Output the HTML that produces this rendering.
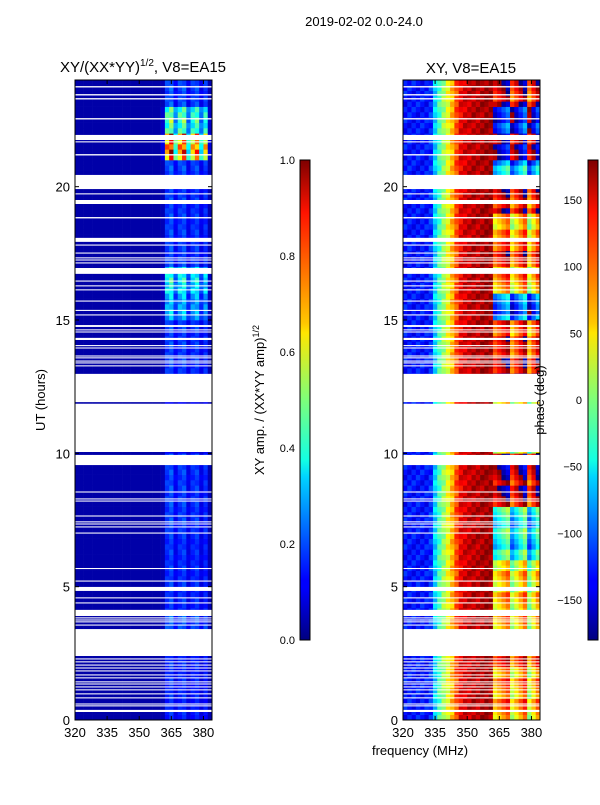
<!DOCTYPE html>
<html><head><meta charset="utf-8"><style>
body{margin:0;background:#fff;}
svg text{font-family:"Liberation Sans",sans-serif;fill:#000;}
</style></head><body>
<svg id="fig" width="600" height="800" xmlns="http://www.w3.org/2000/svg">
<defs>
<linearGradient id="jet" x1="0" y1="1" x2="0" y2="0">
<stop offset="0" stop-color="#00007f"/><stop offset="0.11" stop-color="#0000ff"/><stop offset="0.125" stop-color="#0000ff"/><stop offset="0.34" stop-color="#00d4ff"/><stop offset="0.375" stop-color="#13ffe3"/><stop offset="0.5" stop-color="#7dff7a"/><stop offset="0.64" stop-color="#ffe600"/><stop offset="0.66" stop-color="#ffc800"/><stop offset="0.89" stop-color="#ff1300"/><stop offset="1" stop-color="#7f0000"/>
</linearGradient>
</defs>
<text x="364" y="26" font-size="13" text-anchor="middle">2019-02-02 0.0-24.0</text>
<text x="143" y="72" font-size="15" text-anchor="middle">XY/(XX*YY)<tspan font-size="10" dy="-6">1/2</tspan><tspan dy="6">, V8=EA15</tspan></text>
<text x="471" y="73" font-size="15" text-anchor="middle">XY, V8=EA15</text>
<g id="leftPanel"></g>
<g id="rightPanel"></g>
<rect x="75" y="80" width="137" height="640" fill="none" stroke="#000" stroke-width="1"/>
<rect x="403" y="80" width="137" height="640" fill="none" stroke="#000" stroke-width="1"/>
<g id="axes"></g>
<rect x="300" y="160" width="10" height="480" fill="url(#jet)" stroke="#000" stroke-width="1"/>
<rect x="588" y="160" width="10" height="480" fill="url(#jet)" stroke="#000" stroke-width="1"/>
<text transform="translate(45,400) rotate(-90)" font-size="13" text-anchor="middle">UT (hours)</text>
<text x="420" y="755" font-size="13" text-anchor="middle">frequency (MHz)</text>
<text transform="translate(264,400) rotate(-90)" font-size="13" text-anchor="middle">XY amp. / (XX*YY amp)<tspan font-size="9" dy="-5">1/2</tspan></text>
<text transform="translate(544,400) rotate(-90)" font-size="13" text-anchor="middle">phase (deg)</text>
</svg>
<script>
const timeTicks=[0,5,10,15,20];
const freqTicks=[320,335,350,365,380];
const ampTicks=[0.0,0.2,0.4,0.6,0.8,1.0];
const phaseTicks=[-150,-100,-50,0,50,100,150];
const baseAmp=0.04;
const chanAmp=[0.04,0.04,0.04,0.04,0.04,0.04,0.04,0.04,0.04,0.04,0.04,0.04,0.04,0.04,0.04,0.04,0.04,0.04,0.04,0.04,0.05,0.16,0.19,0.11,0.16,0.18,0.1,0.15,0.17,0.1,0.15,0.05];
const hourAmpScale=[0.9,0.9,0.9,1.3,1.0,1.0,1.0,1.1,1.1,1.1,0.6,0.6,0.9,1.1,1.1,2.0,2.6,1.1,1.1,1.1,1.2,5.6,3.2,1.2];
const chanPhaseLeft=[-130,-130,-130,-130,-130,-130,-120,-60,-20,10,40,70,110,140,150,155,160,160,165,170,170];
const chanPhaseRightOffset=[0,20,40,60,-30,0,30,60,-40,0,40];
const hourPhase=[60,60,90,40,40,30,-60,-60,140,150,0,0,-150,120,100,-120,60,100,50,120,-90,170,-150,130];
const gaps=[[23.72,23.77],[23.42,23.47],[23.27,23.32],[22.52,22.57],[21.75,21.94],[21.66,21.7],[21.17,21.22],[19.91,20.44],[19.71,19.75],[19.35,19.5],[18.81,18.86],[17.93,18.08],[17.79,17.83],[17.49,17.53],[17.31,17.35],[17.23,17.27],[17.12,17.16],[16.73,16.95],[16.44,16.48],[16.26,16.3],[16.11,16.15],[15.69,15.73],[15.34,15.38],[15.17,15.21],[14.74,14.81],[14.61,14.65],[14.53,14.57],[14.25,14.33],[14.02,14.06],[13.93,13.97],[13.63,13.67],[13.56,13.6],[13.44,13.48],[13.37,13.41],[13.26,13.3],[11.92,12.98],[10.05,11.86],[9.56,9.94],[8.53,8.57],[8.27,8.31],[8.19,8.23],[7.63,7.67],[7.41,7.45],[7.33,7.37],[7.22,7.26],[6.99,7.03],[5.66,5.7],[5.19,5.23],[4.84,4.99],[4.56,4.6],[4.37,4.41],[3.9,4.13],[3.81,3.85],[3.73,3.77],[3.66,3.7],[3.54,3.58],[2.4,3.41],[2.27,2.31],[2.16,2.2],[2.04,2.08],[1.93,1.97],[1.82,1.86],[1.67,1.71],[1.56,1.6],[1.41,1.45],[1.33,1.37],[1.22,1.26],[1.11,1.15],[0.96,1.0],[0.81,0.85],[0.58,0.62],[0.51,0.55],[0.3,0.38]];
const NS='http://www.w3.org/2000/svg';
function xL(f){return 75+(f-320)*137/64;}
function xR(f){return 403+(f-320)*137/64;}
function yT(t){return 720-t*640/24;}
function yC(v,lo,hi){return 640-(v-lo)/(hi-lo)*480;}
function jet(v){v=Math.max(0,Math.min(1,v));
 const r=Math.max(0,Math.min(1,1.5-Math.abs(4*v-3))),g=Math.max(0,Math.min(1,1.5-Math.abs(4*v-2))),b=Math.max(0,Math.min(1,1.5-Math.abs(4*v-1)));
 return 'rgb('+Math.round(r*255)+','+Math.round(g*255)+','+Math.round(b*255)+')';}
function wrap(p){while(p>180)p-=360;while(p<-180)p+=360;return p;}
function mk(tag,attrs,parent){const e=document.createElementNS(NS,tag);for(const k in attrs)e.setAttribute(k,attrs[k]);parent.appendChild(e);return e;}
const L=document.getElementById('leftPanel'),R=document.getElementById('rightPanel');
const rowH=0.2;
for(let i=0;i<120;i++){
 const t0=i*rowH,h=Math.floor(t0);
 const y1=yT(t0+rowH),y0=yT(t0);
 for(let c=0;c<32;c++){
  const f0=320+c*2;
  const a=baseAmp+(chanAmp[c]-baseAmp)*hourAmpScale[h]*(1+0.15*((i+c)%3-1));
  const r=mk('rect',{x:xL(f0),y:y1,width:xL(f0+2)-xL(f0)+0.3,height:y0-y1+0.3,fill:jet(a)},L);
  
  
  let p;
  if(c<21)p=chanPhaseLeft[c]+((i*7+c*3)%5-2)*8;
  else p=wrap(hourPhase[h]+chanPhaseRightOffset[c-21]+((i%4)-1.5)*15);
  const q=mk('rect',{x:xR(f0),y:y1,width:xR(f0+2)-xR(f0)+0.3,height:y0-y1+0.3,fill:jet((p+180)/360)},R);
  
  
 }
}
gaps.forEach(g=>{
 [[L,75],[R,403]].forEach(([P,x0])=>{
  const r=mk('rect',{x:x0,y:yT(g[1]),width:137,height:yT(g[0])-yT(g[1]),fill:'#fff'},P);
  
  
 });
});
const A=document.getElementById('axes');
timeTicks.forEach(t=>{
 [[75,212],[403,540]].forEach(([a,b])=>{
  mk('line',{x1:a,x2:a+4,y1:yT(t),y2:yT(t),stroke:'#000'},A);
  mk('line',{x1:b,x2:b-4,y1:yT(t),y2:yT(t),stroke:'#000'},A);
  const tx=mk('text',{x:a-5,y:yT(t)+5,'font-size':13,'text-anchor':'end'},A);tx.textContent=t;
  
  
 });
});
freqTicks.forEach(f=>{
 [xL,xR].forEach(fx=>{
  mk('line',{x1:fx(f),x2:fx(f),y1:720,y2:716,stroke:'#000'},A);
  mk('line',{x1:fx(f),x2:fx(f),y1:80,y2:84,stroke:'#000'},A);
  const tx=mk('text',{x:fx(f),y:737,'font-size':13,'text-anchor':'middle'},A);tx.textContent=f;
  
  
 });
});
ampTicks.forEach(v=>{
 const y=yC(v,0,1);
 mk('line',{x1:300,x2:303,y1:y,y2:y,stroke:'#000'},A);
 const tx=mk('text',{x:295,y:y+4,'font-size':11,'text-anchor':'end'},A);tx.textContent=v.toFixed(1);
 
 
});
phaseTicks.forEach(v=>{
 const y=yC(v,-180,180);
 mk('line',{x1:588,x2:591,y1:y,y2:y,stroke:'#000'},A);
 const tx=mk('text',{x:582,y:y+4,'font-size':11,'text-anchor':'end'},A);tx.textContent=v<0?'\u2212'+(-v):v;
 
 
});
</script>
</body></html>
